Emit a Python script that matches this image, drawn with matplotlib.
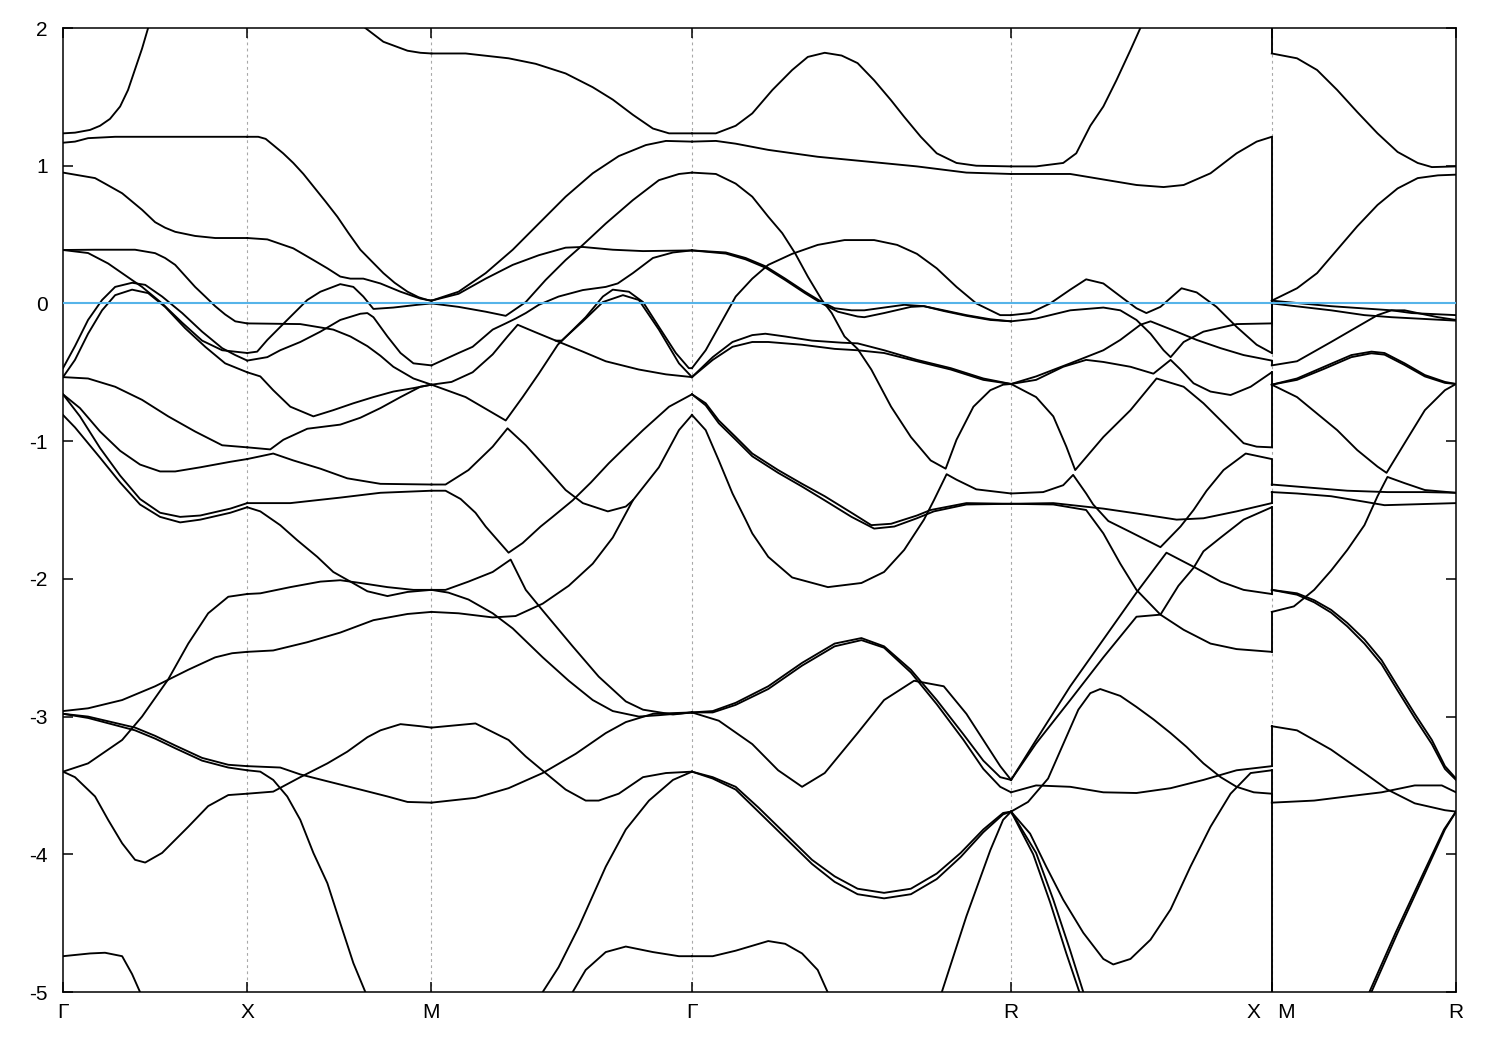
import numpy as np
import matplotlib.pyplot as plt

plt.rcParams['font.family'] = ['Liberation Sans', 'DejaVu Sans']
plt.rcParams['axes.unicode_minus'] = False

# high-symmetry points along the path (path length units)
nodes = [0.0, 1.0, 2.0, 3.414, 5.146, 6.561, 7.561]
node_labels = ["Γ", "X", "M", "Γ", "R", "X   M", "R"]
energy_ticks = [-5, -4, -3, -2, -1, 0, 1, 2]
fermi_level = 0.0

# each band piece: list of (fraction along segment, energy)
gx = [
    [(0, 1.235), (.065, 1.24), (.147, 1.26), (.201, 1.29), (.255, 1.34), (.31, 1.43), (.353, 1.55), (.391, 1.70), (.429, 1.85), (.462, 2.0), (.484, 2.08)],
    [(0, 1.167), (.065, 1.175), (.136, 1.20), (.283, 1.21), (1, 1.21)],
    [(0, .95), (.174, .91), (.228, .87), (.321, .80), (.375, .74), (.429, .68), (.5, .59), (.554, .55), (.609, .52), (.717, .49), (.826, .475), (1, .475)],
    [(0, .388), (.174, .39), (.391, .39), (.5, .365), (.554, .33), (.609, .28), (.663, .20), (.717, .12), (.772, .05), (.826, -.02), (.88, -.08), (.935, -.13), (1, -.145)],
    [(0, .388), (.136, .366), (.245, .29), (.353, .19), (.429, .12), (.538, 0), (.647, -.14), (.755, -.27), (.864, -.34), (1, -.36)],
    [(0, -.47), (.065, -.31), (.136, -.12), (.212, .025), (.283, .12), (.375, .15), (.446, .135), (.538, .05), (.647, -.07), (.755, -.205), (.864, -.325), (.935, -.375), (1, -.415)],
    [(0, -.535), (.065, -.41), (.136, -.22), (.212, -.05), (.283, .06), (.375, .10), (.462, .075), (.554, -.025), (.663, -.18), (.772, -.315), (.88, -.435), (1, -.50)],
    [(0, -.535), (.136, -.545), (.283, -.605), (.429, -.70), (.571, -.82), (.717, -.93), (.864, -1.03), (1, -1.045)],
    [(0, -.66), (.092, -.76), (.201, -.93), (.31, -1.07), (.418, -1.17), (.527, -1.22), (.609, -1.22), (.745, -1.19), (.908, -1.15), (1, -1.13)],
    [(0, -.66), (.092, -.82), (.201, -1.05), (.31, -1.25), (.418, -1.42), (.527, -1.52), (.636, -1.55), (.745, -1.54), (.908, -1.49), (1, -1.45)],
    [(0, -.81), (.065, -.9), (.201, -1.12), (.31, -1.30), (.418, -1.46), (.527, -1.55), (.636, -1.59), (.745, -1.57), (.908, -1.52), (1, -1.48)],
    [(0, -2.96), (.136, -2.94), (.321, -2.88), (.5, -2.78), (.68, -2.66), (.826, -2.57), (.918, -2.54), (1, -2.53)],
    [(0, -3.40), (.136, -3.34), (.321, -3.17), (.429, -3.0), (.571, -2.73), (.68, -2.47), (.788, -2.25), (.897, -2.13), (1, -2.11)],
    [(0, -2.98), (.136, -3.0), (.391, -3.08), (.5, -3.14), (.609, -3.21), (.755, -3.30), (.897, -3.35), (1, -3.36)],
    [(0, -2.98), (.136, -3.01), (.391, -3.10), (.5, -3.16), (.609, -3.23), (.755, -3.32), (.897, -3.37), (1, -3.39)],
    [(0, -3.40), (.065, -3.44), (.174, -3.58), (.245, -3.75), (.321, -3.92), (.391, -4.04), (.446, -4.06), (.538, -3.99), (.68, -3.80), (.788, -3.65), (.897, -3.57), (1, -3.56)],
    [(0, -4.74), (.147, -4.72), (.228, -4.715), (.321, -4.74), (.375, -4.87), (.418, -5.0), (.435, -5.1)],
]

xm = [
    [(.587, 2.06), (.641, 2.0), (.739, 1.90), (.87, 1.835), (.94, 1.82), (1, 1.815)],
    [(0, 1.21), (.06, 1.21), (.1, 1.195), (.141, 1.15), (.195, 1.09), (.25, 1.02), (.305, .94), (.359, .85), (.425, .74), (.489, .63), (.55, .51), (.614, .39), (.68, .30), (.739, .22), (.8, .15), (.87, .085), (.93, .045), (.978, .025), (1, .02)],
    [(0, .475), (.109, .465), (.25, .40), (.359, .315), (.435, .255), (.505, .195), (.56, .18), (.63, .18), (.723, .145), (.832, .085), (.94, .035), (1, .02)],
    [(0, -.145), (.288, -.15), (.467, -.19), (.56, -.24), (.652, -.31), (.723, -.38), (.793, -.46), (.902, -.545), (1, -.59)],
    [(0, -.36), (.054, -.35), (.109, -.265), (.217, -.12), (.326, .025), (.397, .085), (.505, .14), (.576, .12), (.63, .05), (.685, -.04), (.793, -.03), (.924, -.01), (1, 0)],
    [(0, -.415), (.109, -.39), (.179, -.34), (.288, -.28), (.397, -.205), (.505, -.12), (.614, -.075), (.652, -.07), (.685, -.10), (.761, -.24), (.832, -.36), (.902, -.435), (1, -.45)],
    [(0, -.50), (.071, -.53), (.141, -.63), (.234, -.75), (.359, -.82), (.467, -.775), (.576, -.725), (.685, -.68), (.793, -.64), (.902, -.615), (1, -.59)],
    [(0, -1.045), (.125, -1.06), (.196, -.99), (.326, -.91), (.505, -.88), (.614, -.83), (.723, -.76), (.832, -.68), (.94, -.605), (1, -.59)],
    [(0, -1.13), (.071, -1.11), (.141, -1.09), (.25, -1.14), (.397, -1.20), (.543, -1.27), (.723, -1.31), (1, -1.315)],
    [(0, -1.45), (.234, -1.45), (.505, -1.41), (.723, -1.375), (1, -1.36)],
    [(0, -1.48), (.071, -1.51), (.179, -1.61), (.272, -1.72), (.38, -1.84), (.467, -1.95), (.56, -2.02), (.652, -2.09), (.761, -2.125), (.87, -2.095), (1, -2.08)],
    [(0, -2.11), (.071, -2.105), (.234, -2.06), (.397, -2.02), (.505, -2.01), (.614, -2.03), (.761, -2.06), (.902, -2.08), (1, -2.08)],
    [(0, -2.53), (.141, -2.52), (.326, -2.46), (.505, -2.39), (.685, -2.30), (.87, -2.255), (1, -2.24)],
    [(0, -3.36), (.179, -3.37), (.288, -3.42), (.435, -3.47), (.614, -3.53), (.761, -3.58), (.87, -3.62), (1, -3.625)],
    [(0, -3.39), (.071, -3.40), (.141, -3.46), (.217, -3.58), (.288, -3.75), (.359, -3.99), (.435, -4.21), (.505, -4.50), (.576, -4.79), (.641, -5.0), (.663, -5.1)],
    [(0, -3.56), (.141, -3.545), (.288, -3.44), (.435, -3.34), (.543, -3.255), (.652, -3.15), (.723, -3.10), (.832, -3.055), (.94, -3.07), (1, -3.08)],
]

mg = [
    [(0, 1.815), (.131, 1.815), (.296, 1.78), (.4, 1.74), (.515, 1.67), (.619, 1.57), (.696, 1.48), (.773, 1.37), (.85, 1.27), (.912, 1.235), (1, 1.235)],
    [(0, .02), (.104, .085), (.208, .22), (.312, .39), (.412, .58), (.515, .775), (.619, .945), (.719, 1.07), (.823, 1.15), (.9, 1.18), (1, 1.175)],
    [(0, .02), (.104, .07), (.208, .18), (.312, .28), (.412, .35), (.515, .405), (.581, .41), (.696, .39), (.812, .38), (1, .385)],
    [(0, 0), (.104, -.025), (.208, -.06), (.285, -.09), (.362, .01), (.438, .17), (.515, .315), (.581, .425), (.669, .58), (.773, .75), (.873, .895), (.95, .94), (1, .95)],
    [(0, -.45), (.104, -.36), (.158, -.315), (.235, -.19), (.285, -.145), (.323, -.11), (.362, -.07), (.412, -.01), (.488, .05), (.581, .097), (.669, .12), (.715, .145), (.773, .22), (.85, .33), (.927, .37), (1, .385)],
    [(0, -.59), (.077, -.57), (.158, -.50), (.235, -.37), (.292, -.24), (.331, -.155), (.4, -.21), (.477, -.27), (.581, -.35), (.669, -.42), (.796, -.48), (.9, -.515), (1, -.535)],
    [(0, -.59), (.131, -.68), (.285, -.85), (.35, -.68), (.412, -.51), (.485, -.30), (.592, -.10), (.658, .05), (.696, .10), (.758, .085), (.812, .01), (.873, -.17), (.938, -.36), (.988, -.47), (1, -.47)],
    [(.477, -.27), (.5, -.27), (.581, -.13), (.658, .01), (.735, .06), (.796, .025), (.873, -.19), (.95, -.435), (1, -.535)],
    [(0, -1.315), (.054, -1.315), (.142, -1.21), (.235, -1.04), (.292, -.907), (.362, -1.03), (.438, -1.19), (.515, -1.355), (.581, -1.45), (.677, -1.51), (.746, -1.475), (.773, -1.43), (.873, -1.19), (.95, -.92), (1, -.81)],
    [(0, -1.36), (.054, -1.36), (.112, -1.42), (.169, -1.52), (.208, -1.62), (.296, -1.81), (.35, -1.74), (.419, -1.62), (.465, -1.55), (.542, -1.43), (.612, -1.30), (.681, -1.16), (.746, -1.04), (.812, -.92), (.912, -.75), (1, -.66)],
    [(0, -2.08), (.054, -2.08), (.142, -2.02), (.235, -1.95), (.304, -1.86), (.362, -2.08), (.427, -2.23), (.542, -2.49), (.642, -2.71), (.746, -2.89), (.812, -2.95), (.927, -2.985), (1, -2.97)],
    [(0, -2.08), (.065, -2.10), (.142, -2.15), (.235, -2.25), (.312, -2.36), (.427, -2.57), (.527, -2.74), (.619, -2.88), (.696, -2.96), (.796, -3.0), (.873, -2.99), (1, -2.97)],
    [(0, -2.24), (.104, -2.25), (.235, -2.28), (.323, -2.27), (.427, -2.18), (.527, -2.05), (.619, -1.89), (.696, -1.70), (.773, -1.43)],
    [(0, -3.08), (.169, -3.05), (.296, -3.17), (.362, -3.29), (.438, -3.41), (.515, -3.53), (.592, -3.61), (.642, -3.61), (.719, -3.56), (.812, -3.44), (.9, -3.41), (1, -3.40)],
    [(0, -3.625), (.169, -3.59), (.296, -3.52), (.427, -3.41), (.554, -3.27), (.669, -3.12), (.746, -3.04), (.85, -2.98), (1, -2.97)],
    [(.419, -5.1), (.427, -5.0), (.488, -4.82), (.565, -4.53), (.669, -4.09), (.746, -3.82), (.835, -3.61), (.927, -3.46), (1, -3.40)],
    [(.535, -5.1), (.542, -5.0), (.592, -4.84), (.669, -4.71), (.746, -4.67), (.85, -4.71), (.95, -4.74), (1, -4.74)],
]

gr = [
    [(0, 1.235), (.075, 1.235), (.137, 1.29), (.189, 1.38), (.252, 1.55), (.314, 1.695), (.363, 1.79), (.416, 1.82), (.469, 1.80), (.519, 1.745), (.571, 1.62), (.624, 1.475), (.665, 1.355), (.717, 1.21), (.767, 1.09), (.829, 1.02), (.891, 1.0), (1, .995)],
    [(0, 1.175), (.075, 1.18), (.137, 1.16), (.239, 1.115), (.394, 1.065), (.55, 1.03), (.705, .995), (.86, .95), (1, .94)],
    [(0, .95), (.075, .94), (.137, .87), (.189, .775), (.239, .63), (.283, .51), (.323, .365), (.363, .195), (.407, .025), (.438, -.07), (.478, -.24), (.519, -.33), (.562, -.48), (.624, -.75), (.686, -.97), (.748, -1.14), (.795, -1.20), (.829, -.99), (.882, -.75), (.935, -.63), (.975, -.59), (1, -.585)],
    [(0, -.47), (.043, -.34), (.084, -.17), (.137, .05), (.189, .18), (.239, .28), (.314, .36), (.394, .425), (.478, .46), (.571, .46), (.643, .425), (.705, .36), (.767, .255), (.829, .12), (.891, 0.0), (.966, -.085), (1, -.085)],
    [(0, .385), (.106, .37), (.168, .33), (.23, .27), (.292, .18), (.354, .085), (.407, .01), (.447, -.035), (.5, -.05), (.54, -.05), (.602, -.03), (.665, -.01), (.727, -.02), (.789, -.05), (.86, -.085), (.935, -.115), (1, -.13)],
    [(0, .385), (.106, .362), (.168, .32), (.23, .26), (.292, .17), (.354, .075), (.407, 0.0), (.457, -.06), (.519, -.095), (.54, -.10), (.602, -.07), (.686, -.025), (.727, -.02), (.789, -.055), (.86, -.09), (.935, -.12), (1, -.13)],
    [(0, -.535), (.065, -.39), (.127, -.28), (.189, -.23), (.23, -.22), (.292, -.24), (.376, -.27), (.469, -.285), (.519, -.29), (.602, -.34), (.705, -.41), (.811, -.47), (.913, -.545), (1, -.585)],
    [(0, -.535), (.065, -.41), (.127, -.315), (.189, -.28), (.239, -.28), (.345, -.30), (.447, -.33), (.519, -.34), (.602, -.36), (.705, -.42), (.811, -.48), (.913, -.555), (1, -.585)],
    [(0, -.66), (.043, -.725), (.084, -.85), (.137, -.97), (.189, -1.09), (.27, -1.21), (.345, -1.31), (.416, -1.40), (.5, -1.52), (.562, -1.61), (.624, -1.60), (.705, -1.54), (.748, -1.50), (.86, -1.45), (1, -1.455)],
    [(0, -.66), (.043, -.74), (.084, -.87), (.137, -.99), (.189, -1.11), (.27, -1.23), (.345, -1.33), (.416, -1.43), (.5, -1.55), (.571, -1.635), (.634, -1.62), (.705, -1.56), (.758, -1.51), (.86, -1.46), (1, -1.455)],
    [(0, -.81), (.043, -.92), (.084, -1.14), (.127, -1.38), (.168, -1.57), (.189, -1.67), (.239, -1.84), (.314, -1.99), (.426, -2.06), (.531, -2.03), (.602, -1.95), (.665, -1.79), (.727, -1.57), (.758, -1.43), (.798, -1.24), (.829, -1.28), (.891, -1.35), (1, -1.38)],
    [(0, -2.97), (.065, -2.96), (.137, -2.90), (.239, -2.78), (.345, -2.61), (.447, -2.47), (.531, -2.43), (.602, -2.49), (.686, -2.66), (.767, -2.88), (.851, -3.13), (.913, -3.32), (.966, -3.44), (1, -3.46)],
    [(0, -2.97), (.065, -2.97), (.137, -2.915), (.239, -2.80), (.345, -2.63), (.447, -2.49), (.531, -2.445), (.602, -2.50), (.686, -2.68), (.767, -2.91), (.851, -3.17), (.913, -3.38), (.966, -3.51), (1, -3.55)],
    [(0, -2.97), (.084, -3.03), (.189, -3.20), (.27, -3.39), (.345, -3.51), (.416, -3.41), (.519, -3.12), (.602, -2.88), (.696, -2.74), (.789, -2.78), (.86, -2.98), (.913, -3.17), (.966, -3.36), (1, -3.46)],
    [(0, -3.40), (.065, -3.44), (.137, -3.51), (.208, -3.66), (.292, -3.85), (.376, -4.04), (.447, -4.16), (.519, -4.25), (.602, -4.28), (.686, -4.25), (.767, -4.14), (.842, -3.99), (.913, -3.82), (.975, -3.70), (1, -3.69)],
    [(0, -3.40), (.065, -3.45), (.137, -3.53), (.208, -3.69), (.292, -3.88), (.376, -4.07), (.447, -4.20), (.519, -4.29), (.602, -4.32), (.686, -4.29), (.767, -4.18), (.842, -4.02), (.913, -3.84), (.975, -3.71), (1, -3.69)],
    [(0, -4.74), (.065, -4.74), (.137, -4.70), (.239, -4.63), (.292, -4.65), (.345, -4.72), (.394, -4.84), (.425, -5.0), (.435, -5.1)],
    [(.773, -5.1), (.783, -5.0), (.86, -4.45), (.935, -3.97), (.975, -3.75), (1, -3.69)],
]

rx = [
    [(0, .995), (.096, .995), (.2, 1.02), (.25, 1.09), (.304, 1.29), (.354, 1.43), (.404, 1.62), (.458, 1.84), (.496, 2.0), (.512, 2.08)],
    [(0, .94), (.227, .94), (.354, .90), (.481, .86), (.585, .845), (.662, .86), (.765, .945), (.865, 1.09), (.942, 1.175), (1, 1.21)],
    [(0, -.085), (.073, -.07), (.15, 0), (.227, .10), (.288, .175), (.354, .145), (.431, .035), (.481, -.035), (.519, -.07), (.573, -.025), (.654, .11), (.712, .08), (.788, -.025), (.865, -.17), (.942, -.30), (1, -.36)],
    [(0, -.13), (.096, -.11), (.227, -.05), (.354, -.03), (.419, -.05), (.481, -.12), (.535, -.22), (.585, -.34), (.612, -.39), (.662, -.28), (.738, -.205), (.865, -.15), (1, -.145)],
    [(0, -.585), (.096, -.555), (.2, -.46), (.288, -.41), (.354, -.425), (.458, -.46), (.546, -.51), (.612, -.41), (.65, -.48), (.7, -.58), (.765, -.64), (.842, -.665), (.919, -.605), (1, -.50)],
    [(0, -.585), (.096, -.53), (.227, -.435), (.354, -.34), (.419, -.265), (.496, -.155), (.535, -.13), (.635, -.205), (.712, -.265), (.804, -.325), (.892, -.375), (1, -.415)],
    [(0, -.585), (.096, -.68), (.162, -.82), (.212, -1.04), (.246, -1.21), (.354, -.97), (.458, -.775), (.558, -.545), (.662, -.605), (.738, -.725), (.815, -.87), (.892, -1.015), (.942, -1.04), (1, -1.045)],
    [(0, -1.38), (.123, -1.37), (.2, -1.32), (.238, -1.245), (.288, -1.38), (.315, -1.46), (.373, -1.58), (.458, -1.66), (.573, -1.77), (.65, -1.62), (.7, -1.50), (.75, -1.36), (.815, -1.21), (.9, -1.09), (1, -1.13)],
    [(0, -1.455), (.162, -1.45), (.354, -1.49), (.481, -1.525), (.635, -1.57), (.738, -1.56), (.865, -1.51), (1, -1.45)],
    [(0, -1.455), (.162, -1.46), (.288, -1.50), (.354, -1.67), (.419, -1.89), (.481, -2.08), (.573, -2.26), (.662, -2.37), (.765, -2.47), (.865, -2.51), (1, -2.53)],
    [(0, -3.46), (.096, -3.17), (.227, -2.78), (.354, -2.44), (.481, -2.10), (.596, -1.81), (.662, -1.875), (.708, -1.92), (.804, -2.02), (.892, -2.08), (1, -2.11)],
    [(0, -3.46), (.096, -3.195), (.227, -2.88), (.354, -2.57), (.481, -2.275), (.573, -2.26), (.642, -2.05), (.7, -1.92), (.738, -1.80), (.804, -1.70), (.892, -1.57), (1, -1.48)],
    [(0, -3.55), (.096, -3.50), (.227, -3.51), (.354, -3.55), (.481, -3.555), (.612, -3.52), (.738, -3.46), (.865, -3.39), (1, -3.36)],
    [(0, -3.69), (.065, -3.62), (.142, -3.45), (.2, -3.2), (.258, -2.95), (.304, -2.83), (.342, -2.80), (.419, -2.85), (.481, -2.93), (.546, -3.02), (.612, -3.12), (.673, -3.22), (.738, -3.34), (.804, -3.44), (.865, -3.51), (.931, -3.55), (1, -3.56)],
    [(0, -3.69), (.073, -3.85), (.135, -4.09), (.2, -4.33), (.277, -4.57), (.354, -4.76), (.392, -4.80), (.458, -4.76), (.535, -4.62), (.612, -4.40), (.688, -4.09), (.765, -3.80), (.842, -3.56), (.919, -3.41), (1, -3.39)],
    [(0, -3.69), (.096, -3.99), (.162, -4.33), (.227, -4.70), (.277, -5.0), (.288, -5.1)],
    [(0, -3.69), (.085, -4.0), (.15, -4.35), (.212, -4.72), (.262, -5.0), (.273, -5.1)],
]

mr = [
    [(0, 1.815), (.137, 1.78), (.246, 1.695), (.355, 1.55), (.464, 1.39), (.574, 1.235), (.683, 1.10), (.792, 1.02), (.869, .99), (1, .995)],
    [(0, .02), (.137, .11), (.246, .22), (.355, .39), (.464, .56), (.574, .715), (.683, .835), (.792, .91), (.902, .93), (1, .935)],
    [(0, .02), (.322, -.02), (.65, -.05), (.76, -.07), (1, -.085)],
    [(0, 0), (.322, -.05), (.503, -.085), (.65, -.10), (1, -.125)],
    [(0, -.45), (.137, -.42), (.322, -.28), (.464, -.17), (.574, -.085), (.65, -.05), (.721, -.05), (.792, -.07), (.902, -.10), (1, -.12)],
    [(0, -.59), (.137, -.545), (.284, -.46), (.432, -.375), (.541, -.35), (.612, -.36), (.721, -.435), (.831, -.52), (.94, -.57), (1, -.585)],
    [(0, -.59), (.137, -.555), (.284, -.475), (.432, -.39), (.541, -.362), (.612, -.372), (.721, -.447), (.831, -.53), (.94, -.577), (1, -.585)],
    [(0, -.59), (.137, -.68), (.246, -.80), (.355, -.92), (.464, -1.065), (.574, -1.185), (.623, -1.23), (.721, -1.015), (.831, -.775), (.94, -.63), (1, -.585)],
    [(0, -2.24), (.12, -2.20), (.23, -2.08), (.322, -1.94), (.41, -1.79), (.503, -1.61), (.574, -1.40), (.628, -1.26), (.721, -1.305), (.831, -1.355), (1, -1.375)],
    [(0, -1.315), (.137, -1.33), (.41, -1.36), (.628, -1.37), (.831, -1.37), (1, -1.375)],
    [(0, -1.37), (.137, -1.38), (.322, -1.40), (.503, -1.44), (.612, -1.465), (1, -1.45)],
    [(0, -2.08), (.137, -2.105), (.23, -2.155), (.322, -2.225), (.41, -2.32), (.503, -2.44), (.596, -2.59), (.683, -2.78), (.776, -2.98), (.869, -3.17), (.94, -3.36), (1, -3.45)],
    [(0, -2.08), (.137, -2.115), (.23, -2.17), (.322, -2.245), (.41, -2.345), (.503, -2.47), (.596, -2.62), (.683, -2.81), (.776, -3.01), (.869, -3.20), (.94, -3.38), (1, -3.46)],
    [(0, -3.07), (.137, -3.10), (.322, -3.24), (.503, -3.41), (.628, -3.53), (.776, -3.63), (.94, -3.68), (1, -3.69)],
    [(0, -3.625), (.23, -3.61), (.41, -3.58), (.596, -3.55), (.776, -3.50), (.923, -3.50), (1, -3.55)],
    [(.53, -5.1), (.541, -5.0), (.683, -4.57), (.831, -4.14), (.94, -3.82), (1, -3.69)],
    [(.52, -5.1), (.53, -5.0), (.672, -4.57), (.822, -4.14), (.935, -3.82), (1, -3.69)],
]

# band energies joined across the X|M break (energy at X, energy at M)
xm_links = [(2.3, 1.815), (1.21, .02), (-.145, .02), (-.36, 0), (-.415, -.45),
            (-.50, -.59), (-1.04, -.59), (-1.14, -1.315), (-1.45, -1.37),
            (-1.48, -2.08), (-2.11, -2.08), (-2.53, -2.24), (-3.36, -3.07),
            (-3.39, -3.625), (-3.56, -5.5)]

segments = [(gx, 0, 1), (xm, 1, 2), (mg, 2, 3), (gr, 3, 4), (rx, 4, 5), (mr, 5, 6)]

fig = plt.figure(figsize=(15, 10.5), dpi=100)
ax = fig.add_axes([63 / 1500, 58 / 1050, 1393 / 1500, 964 / 1050])

for k in nodes[1:-1]:
    ax.axvline(k, color='#a8a8a8', lw=0.8, ls=(0, (2.5, 3)), zorder=0)

for strands, a, b in segments:
    k0, k1 = nodes[a], nodes[b]
    for s in strands:
        t, e = np.array(s).T
        ax.plot(k0 + t * (k1 - k0), e, color='black', lw=1.35, zorder=2)

for ex, em in xm_links:
    ax.plot([nodes[5], nodes[5]], [ex, em], color='black', lw=1.35, zorder=2)

ax.axhline(fermi_level, color='#56b4e9', lw=1.5, zorder=3)

ax.set_xlim(nodes[0], nodes[-1])
ax.set_ylim(-5, 2)
ax.set_xticks(nodes)
ax.set_xticklabels(node_labels)
ax.set_yticks(energy_ticks)
ax.set_yticklabels([str(v) for v in energy_ticks])
ax.tick_params(direction='in', length=7.5, width=1.1, top=True, right=True,
               labelsize=15, colors='black')
ax.tick_params(axis='y', pad=11)
ax.tick_params(axis='x', pad=8)
for sp in ax.spines.values():
    sp.set_linewidth(1.1)

fig.savefig('out.png', dpi=100)
